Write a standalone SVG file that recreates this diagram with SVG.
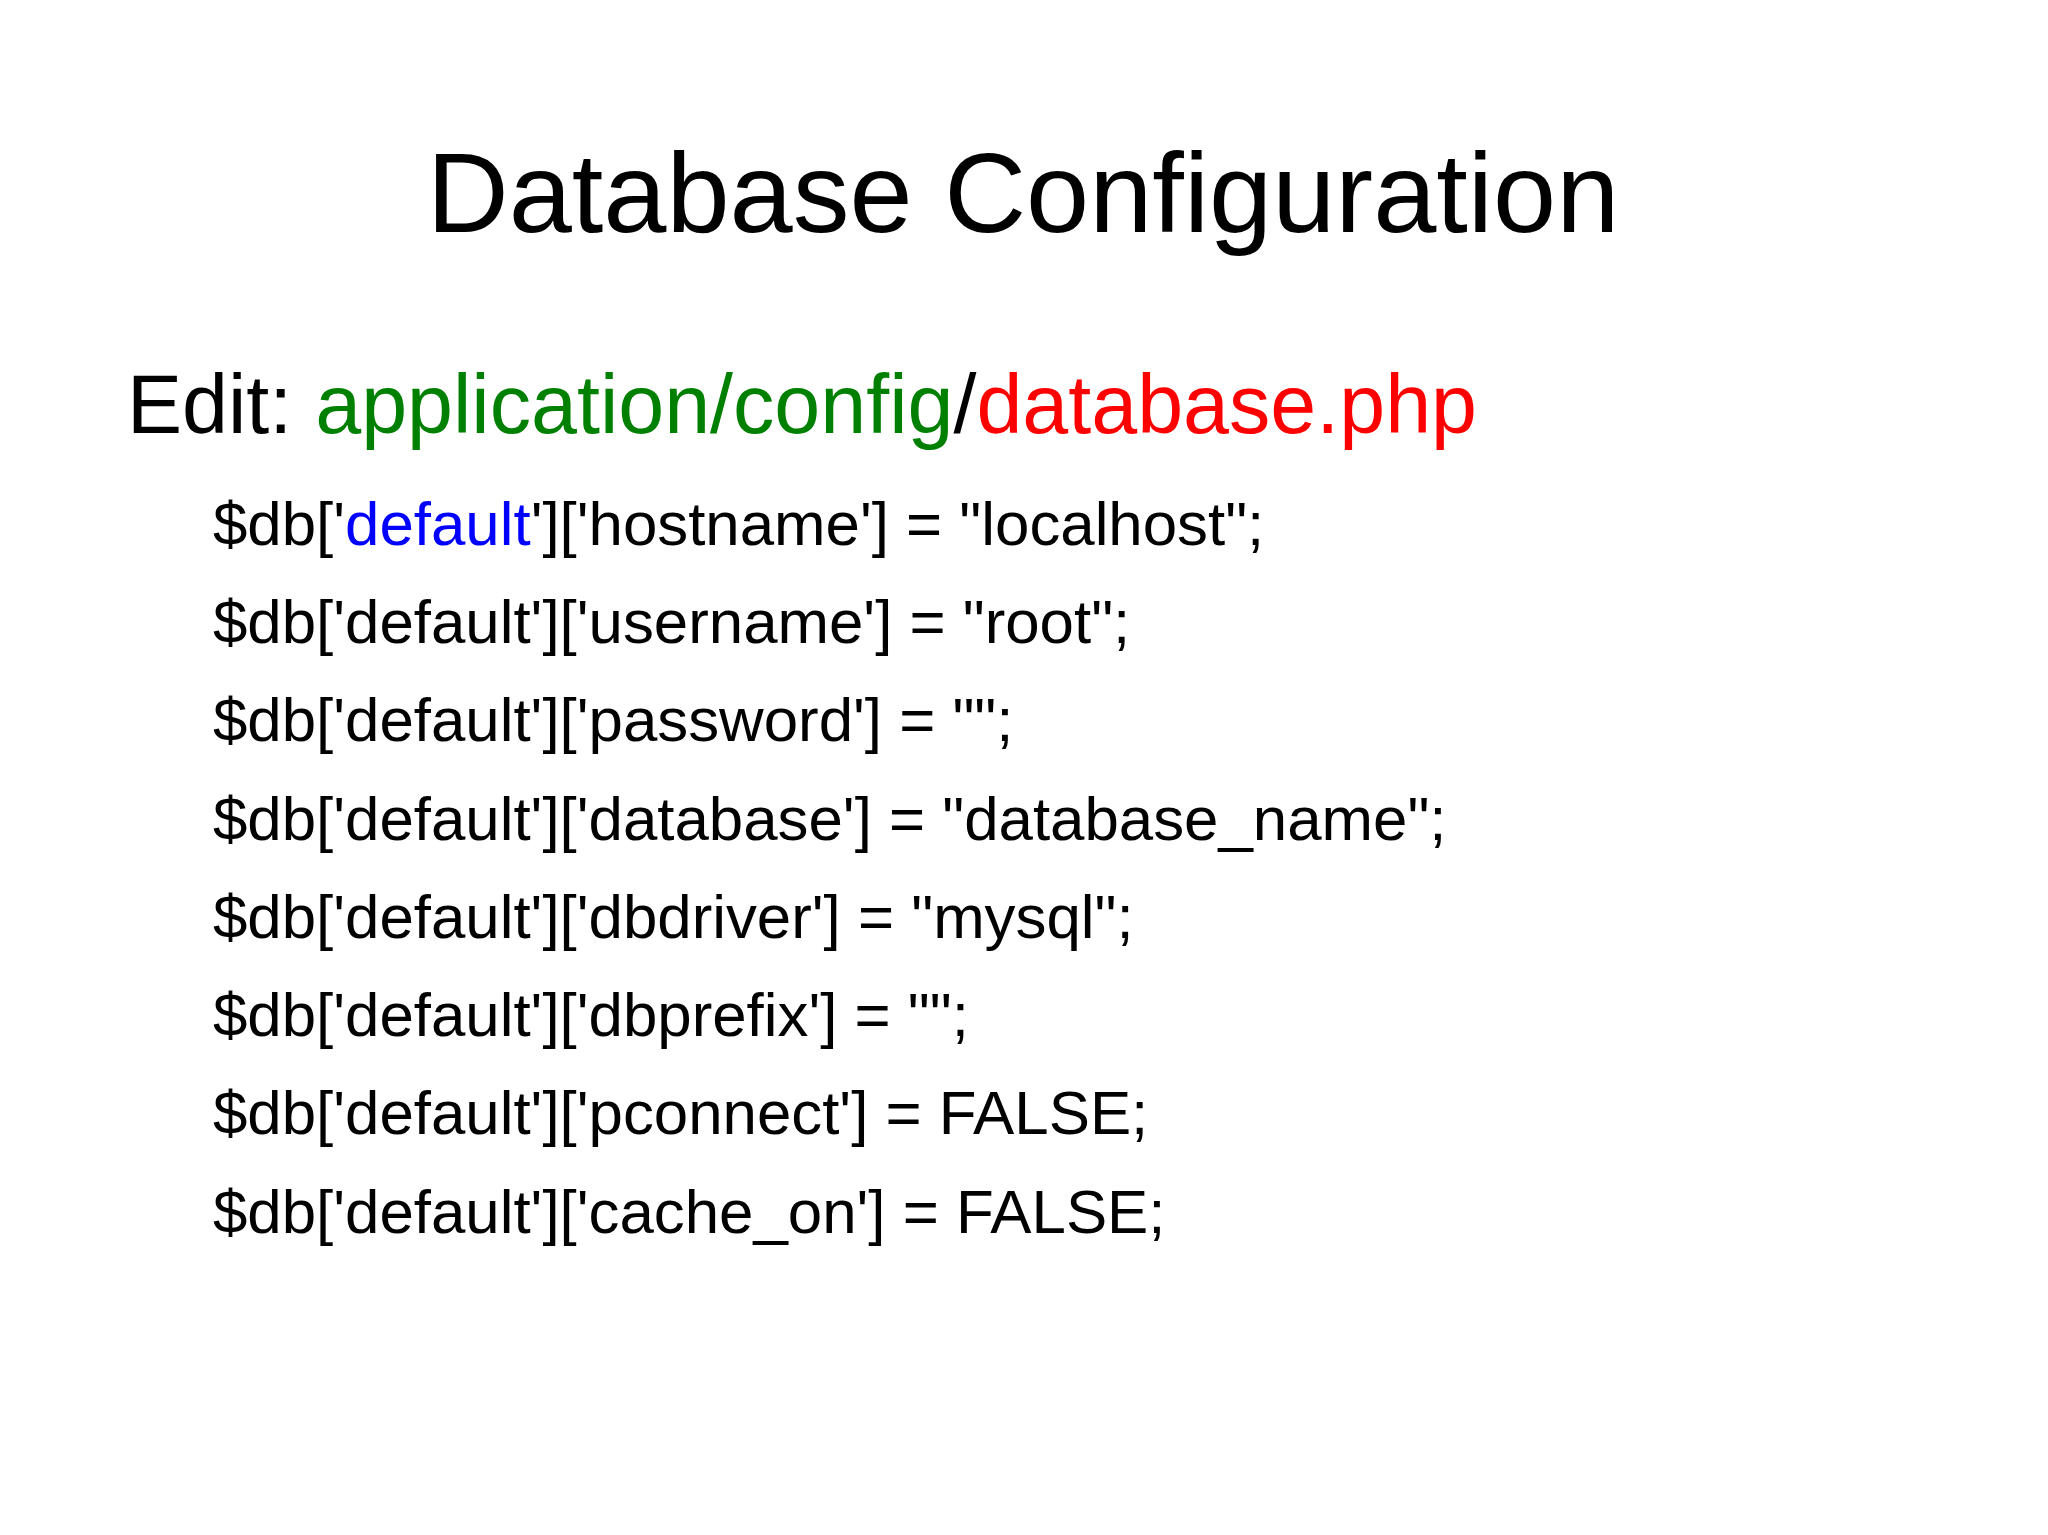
<svg xmlns="http://www.w3.org/2000/svg" width="2048" height="1535" viewBox="0 0 2048 1535">
<style>
text{font-family:"Liberation Sans",Arial,sans-serif;fill:#000}
.code{font-size:61.8px}
.g{fill:#008000}.r{fill:#ff0000}.b{fill:#0000ff}
</style>
<rect width="2048" height="1535" fill="#ffffff"/>
<g id="title"><text x="1023" y="232" font-size="113.5" text-anchor="middle">Database Configuration</text></g>
<g id="edit"><text x="127" y="433" font-size="82.6">Edit: <tspan class="g">application/config</tspan>/<tspan class="r">database.php</tspan></text></g>
<g id="code">
<text class="code" x="213" y="545">$db['<tspan class="b">default</tspan>']['hostname'] = "localhost";</text>
<text class="code" x="213" y="643">$db['default']['username'] = "root";</text>
<text class="code" x="213" y="741">$db['default']['password'] = "";</text>
<text class="code" x="213" y="840">$db['default']['database'] = "database_name";</text>
<text class="code" x="213" y="938">$db['default']['dbdriver'] = "mysql";</text>
<text class="code" x="213" y="1036">$db['default']['dbprefix'] = "";</text>
<text class="code" x="213" y="1134">$db['default']['pconnect'] = FALSE;</text>
<text class="code" x="213" y="1233">$db['default']['cache_on'] = FALSE;</text>
</g>
</svg>
